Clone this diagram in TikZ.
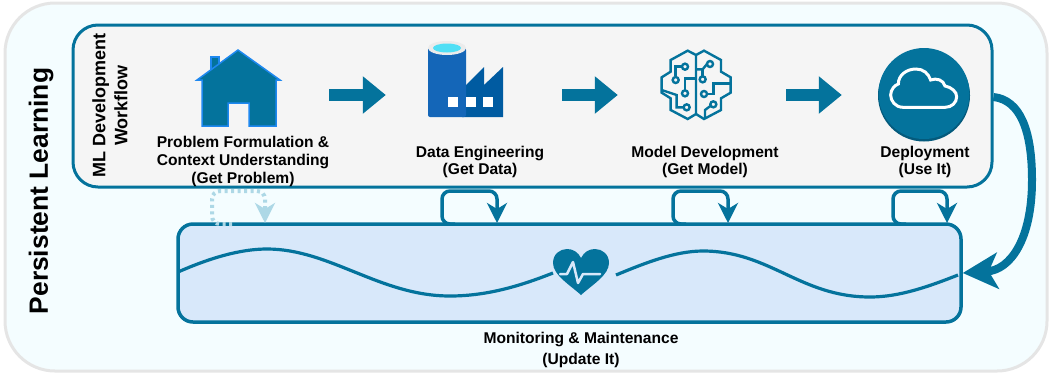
\documentclass[tikz,border=0pt]{standalone}
\usepackage{fontspec}
\setmainfont{Liberation Sans}
\usetikzlibrary{arrows.meta}
\definecolor{TealLine}{HTML}{04739C}
\definecolor{TealDark}{HTML}{045A7C}
\definecolor{BrightBlue}{HTML}{1E88F0}
\definecolor{PaleSky}{HTML}{F4FDFF}
\definecolor{PaleBlue}{HTML}{D8E8FA}
\definecolor{DottedBlue}{HTML}{ADD8E6}
\definecolor{FactoryBlue}{HTML}{005BA1}
\definecolor{TankEdge}{HTML}{1466B8}
\definecolor{TankMid}{HTML}{0A7AD6}
\definecolor{TankWater}{HTML}{50DFF5}
\tikzset{
  roundbox/.style={draw=TealLine, line width=3pt, rounded corners=#1},
  steplabel/.style={align=center, font=\fontsize{15.6}{17.8}\selectfont\bfseries},
  flowarrow/.style={draw=TealLine, line width=12pt, -{Triangle[length=23pt,width=36pt]}},
  loopline/.style={draw=TealLine, line width=3.5pt, rounded corners=8pt, -{Stealth[length=20pt,width=20pt,inset=6pt]}},
  dottedloop/.style={draw=DottedBlue, line width=4pt, rounded corners=8pt, dash pattern=on 3pt off 3.5pt, -{Stealth[length=20pt,width=20pt,inset=6pt]}},
  iconmark/.style={inner sep=0pt, minimum size=0pt},
}
\begin{document}
\begin{tikzpicture}[x=1pt, y=-1pt]
\useasboundingbox (0,0) rectangle (1051,376);
% boxes
\node[draw=black!10, fill=PaleSky, line width=3pt, rounded corners=50pt, minimum width=1042pt, minimum height=368pt, inner sep=0pt] (outerbox) at (526,187) {};
\node[roundbox=25pt, fill=black!4, minimum width=919pt, minimum height=162pt, inner sep=0pt] (workflowbox) at (532.5,106) {};
\node[roundbox=15pt, fill=PaleBlue, line width=3.5pt, minimum width=783pt, minimum height=98pt, inner sep=0pt] (monitorbox) at (569.5,273) {};
% side labels
\node[rotate=90, font=\fontsize{26.4}{30}\selectfont\bfseries] (persistentlabel) at (41,191) {Persistent Learning};
\node[rotate=90, align=center, font=\fontsize{18}{22}\selectfont\bfseries] (workflowlabel) at (110,105.5) {ML Development\\Workflow};
% icon anchors
\node[iconmark] (houseicon) at (238,95) {};
\node[iconmark] (dataicon) at (460,95) {};
\node[iconmark] (modelicon) at (696,95) {};
\node[iconmark] (cloudicon) at (924,95) {};
% house
\draw[BrightBlue, fill=TealLine, line width=1.5pt] (211,70) -- (211,57) -- (219,57) -- (219,70) -- cycle;
\draw[BrightBlue, fill=TealLine, line width=1.5pt, line join=miter] (197,80) -- (238,50) -- (280,80) -- (276,80) -- (276,126) -- (249,126) -- (249,103) -- (228,103) -- (228,126) -- (202,126) -- (202,80) -- cycle;
% data factory
\fill[FactoryBlue] (466,85) -- (484,67) -- (484,85) -- (503,67) -- (503,117) -- (462,117) -- (462,85) -- cycle;
\shade[rounded corners=2pt, left color=TankEdge, middle color=TankMid, right color=TankEdge] (428,48) -- (466,48) -- (466,117) -- (428,117) -- cycle;
\fill[black!8] (447,48) ellipse (19pt and 7pt);
\fill[TankWater] (447,48) ellipse (14pt and 4.5pt);
\fill[white] (448,97) rectangle (458,107);
\fill[white] (466,97) rectangle (476,107);
\fill[white] (483,97) rectangle (493,107);
% brain
\begin{scope}[shift={(620,30)}, scale=1/3, TealLine, line width=2.4pt]
\draw (228,75) -- (203,62) -- (152,90) -- (152,125) -- (125,142) -- (125,188) -- (152,205) -- (152,240) -- (203,267) -- (228,252) -- cycle;
\draw (228,75) -- (252,62) -- (303,90) -- (303,125) -- (332,142) -- (332,188) -- (303,205) -- (303,240) -- (252,267) -- (228,252);
\draw (167,139) -- (167,110) -- (186,110);
\draw (195,181) -- (195,145) -- (228,145);
\draw (191,232) -- (170,232) -- (170,195) -- (125,180);
\draw (261,102) -- (248,118) -- (228,118);
\draw (248,139) -- (248,118);
\draw (261,192) -- (280,192) -- (280,160) -- (332,160);
\draw (271,228) -- (255,240) -- (255,265);
\foreach \cx/\cy in {195/110, 167/150, 195/190, 200/232, 270/102, 248/148, 252/192, 280/223}
  \draw (\cx,\cy) circle (9pt);
\end{scope}
% cloud disc
\fill[TealDark] (924,95.5) circle (46pt);
\fill[TealLine] (924,93.5) circle (45.5pt);
\begin{scope}[shift={(620,30)}, scale=1/3]
\draw[white, line width=3pt] (850,232) .. controls (825,232) and (812,212) .. (812,195)
  .. controls (812,178) and (825,165) .. (835,162)
  .. controls (835,135) and (860,117) .. (888,117)
  .. controls (910,117) and (925,130) .. (932,150)
  .. controls (950,143) and (970,150) .. (975,168)
  .. controls (995,172) and (1010,185) .. (1010,200)
  .. controls (1010,218) and (995,232) .. (975,232) -- cycle;
\end{scope}
% step labels
\node[steplabel] (problemlabel) at (243,161.5) {Problem Formulation \&\\Context Understanding\\(Get Problem)};
\node[steplabel] (datalabel) at (480,162) {Data Engineering\\(Get Data)};
\node[steplabel] (modellabel) at (705,162) {Model Development\\(Get Model)};
\node[steplabel] (deploylabel) at (925,162) {Deployment\\(Use It)};
\node[align=center, font=\fontsize{15.6}{21}\selectfont\bfseries] (monitorlabel) at (581,350) {Monitoring \& Maintenance\\(Update It)};
% flow arrows
\draw[flowarrow, shorten <=91pt, shorten >=74pt] (houseicon) -- (dataicon);
\draw[flowarrow, shorten <=102pt, shorten >=78pt] (dataicon) -- (modelicon);
\draw[flowarrow, shorten <=90pt, shorten >=82pt] (modelicon) -- (cloudicon);
% loops
\coordinate (problemloopa) at (232,224);
\coordinate (problemloopb) at (265,223);
\coordinate (dataloopa) at (455,224);
\coordinate (dataloopb) at (497,223);
\coordinate (modelloopa) at (686,224);
\coordinate (modelloopb) at (728,223);
\coordinate (deployloopa) at (906,224);
\coordinate (deployloopb) at (947,223);
\draw[dottedloop] (problemloopa) -- (212,224) -- (212,191) -- (265,191) -- (problemloopb);
\draw[loopline] (dataloopa) -- (442,224) -- (442,191) -- (497,191) -- (dataloopb);
\draw[loopline] (modelloopa) -- (673,224) -- (673,191) -- (728,191) -- (modelloopb);
\draw[loopline] (deployloopa) -- (893,224) -- (893,191) -- (947,191) -- (deployloopb);
% wave and heart
\draw[TealLine, line width=3.2pt] (178,272) .. controls (210,258) and (240,249) .. (267,249) .. controls (330,249) and (380,296) .. (450,296) .. controls (490,296) and (525,284) .. (553,273);
\draw[TealLine, line width=3.2pt] (616,275) .. controls (645,263) and (675,251) .. (703,251) .. controls (770,251) and (800,297) .. (870,297) .. controls (900,297) and (930,286) .. (958,275);
\fill[TealLine] (581,295) .. controls (570,285) and (553,275) .. (553,263) .. controls (553,254) and (560,249) .. (567,249) .. controls (573,249) and (578,252) .. (581,258) .. controls (584,252) and (589,249) .. (595,249) .. controls (602,249) and (609,254) .. (609,263) .. controls (609,275) and (592,285) .. (581,295) -- cycle;
\draw[PaleBlue, line width=2.5pt, line cap=round, line join=round] (560,274) -- (567,274) -- (573,262) -- (578,283) -- (583,274) -- (600,274);
% big return arrow
\draw[TealLine, line width=8pt, -{Stealth[length=35pt,width=36pt,inset=9pt]}] ([yshift=9pt]workflowbox.east) .. controls (1020,100) and (1032,130) .. (1032,180) .. controls (1032,240) and (1010,270) .. (monitorbox.east);
\end{tikzpicture}
\end{document}
